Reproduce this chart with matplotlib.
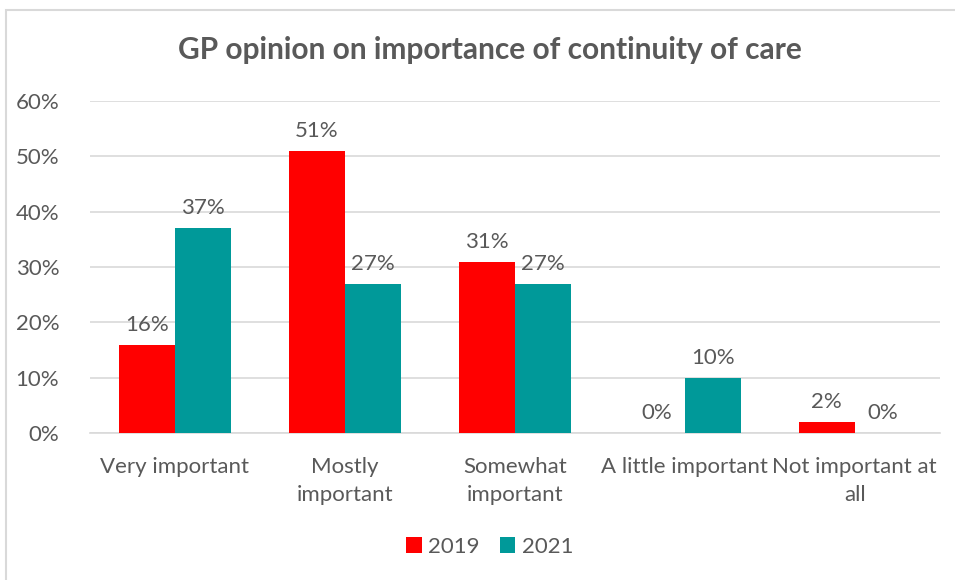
import numpy as np
import matplotlib.pyplot as plt
from matplotlib.patches import Rectangle

plt.rcParams["font.family"] = ["Lato", "DejaVu Sans"]

categories = ["Very important", "Mostly\nimportant", "Somewhat\nimportant",
              "A little important", "Not important at\nall"]
vals_2019 = [16, 51, 31, 0, 2]
vals_2021 = [37, 27, 27, 10, 0]
series = ["2019", "2021"]
colors = ["#FF0000", "#009999"]
text_col = "#595959"

fig = plt.figure(figsize=(9.55, 5.8), dpi=100)
ax = fig.add_axes([0.094, 0.253, 0.890, 0.573])

# outer chart border
fig.patches.append(Rectangle((0.006, -0.05), 1.2, 1.033, transform=fig.transFigure,
                             fill=False, edgecolor="#D9D9D9", linewidth=1.5))

x = np.arange(len(categories))
w = 0.33
for i, (vals, name, c) in enumerate(zip([vals_2019, vals_2021], series, colors)):
    pos = x + (i - 0.5) * w
    ax.bar(pos, vals, width=w, color=c, label=name, zorder=3)
    for p, v in zip(pos, vals):
        ax.text(p, v + 1.8, f"{v}%", ha="center", va="bottom",
                fontsize=16, color=text_col)

ax.set_ylim(0, 60)
ax.set_xlim(-0.5, len(categories) - 0.5)
ax.set_yticks(np.arange(0, 61, 10))
ax.set_yticklabels([f"{t}%" for t in range(0, 61, 10)])
ax.set_xticks(x)
ax.set_xticklabels(categories, va="top", linespacing=1.5)
ax.tick_params(axis="both", length=0, labelsize=16, labelcolor=text_col)
ax.tick_params(axis="y", pad=22)
ax.tick_params(axis="x", pad=17)
ax.grid(axis="y", color="#D9D9D9", linewidth=1.2, zorder=0)
for s in ["top", "right", "left"]:
    ax.spines[s].set_visible(False)
ax.spines["bottom"].set_color("#D9D9D9")
ax.spines["bottom"].set_linewidth(1.2)

fig.text(0.513, 0.913, "GP opinion on importance of continuity of care",
         ha="center", va="center", fontsize=21.5, fontweight="bold", color=text_col)

fig.legend(loc="center", bbox_to_anchor=(0.513, 0.057), ncol=2, frameon=False,
           fontsize=16, labelcolor=text_col, handlelength=0.7, handleheight=0.7,
           columnspacing=0.9, handletextpad=0.3)

fig.savefig("out.png", dpi=100)
